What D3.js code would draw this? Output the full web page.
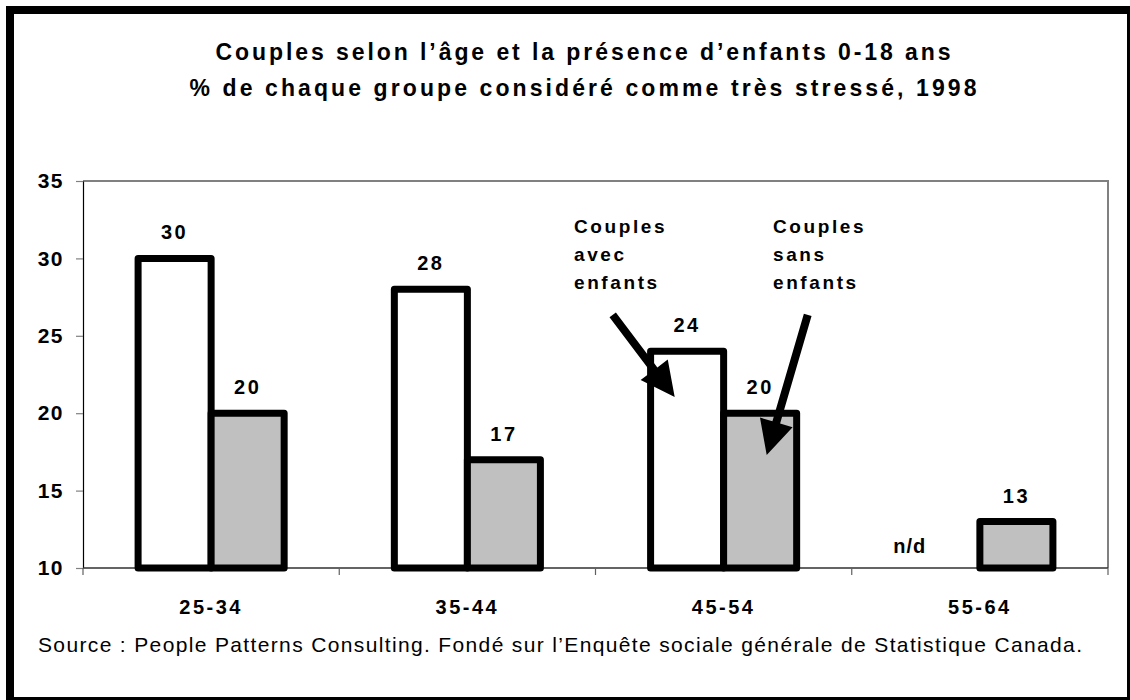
<!DOCTYPE html>
<html lang="fr">
<head>
<meta charset="utf-8">
<script src="https://cdn.jsdelivr.net/npm/d3@7"></script>
<style>
  html, body { margin: 0; padding: 0; background: #fff; }
  svg { display: block; font-family: "Liberation Sans", Arial, Helvetica, sans-serif; }
</style>
</head>
<body>
<svg id="chart" width="1130" height="700"></svg>
<script>
// Age groups and the share (%) of couples in each group who report being very stressed
const categories = ["25-34", "35-44", "45-54", "55-64"];
const seriesKeys = ["avec", "sans"];
const avecEnfants = [30, 28, 24, null];   // no data (n/d) for 55-64
const sansEnfants = [20, 17, 20, 13];
const yTicks = [10, 15, 20, 25, 30, 35];

const titleLines = [
  "Couples selon l\u2019âge et la présence d\u2019enfants 0-18 ans",
  "% de chaque groupe considéré comme très stressé, 1998"
];
const sourceText = "Source : People Patterns Consulting. Fondé sur l\u2019Enquête sociale générale de Statistique Canada.";
const missingLabel = "n/d";
const seriesLabels = {
  avec: ["Couples", "avec", "enfants"],
  sans: ["Couples", "sans", "enfants"]
};

const svg = d3.select("#chart");
const W = 1130, H = 700;

svg.append("rect").attr("width", W).attr("height", H).attr("fill", "#fff");

// Plot area
const plot = { left: 83, right: 1108, top: 181, bottom: 568 };

const x0 = d3.scaleBand()
  .domain(categories)
  .range([plot.left, plot.right])
  .paddingInner(0.43)
  .paddingOuter(0.215);

const x1 = d3.scaleBand()
  .domain(seriesKeys)
  .range([0, x0.bandwidth()])
  .padding(0);

const y = d3.scaleLinear().domain([10, 35]).range([plot.bottom, plot.top]);

const fills = { avec: "#ffffff", sans: "#c0c0c0" };

// Plot frame (top and right edges)
svg.append("path")
  .attr("d", `M${plot.left},${plot.top}H${plot.right}V${plot.bottom}`)
  .attr("fill", "none")
  .attr("stroke", "#808080")
  .attr("stroke-width", 2);

// Y axis
const yAxis = svg.append("g")
  .attr("transform", `translate(${plot.left},0)`)
  .call(d3.axisLeft(y).tickValues(yTicks).tickSize(7).tickPadding(12).tickSizeOuter(0));
yAxis.select(".domain").attr("stroke", "#000").attr("stroke-width", 1.2);
yAxis.selectAll(".tick line").attr("stroke", "#808080").attr("stroke-width", 1.2);
yAxis.selectAll(".tick text")
  .attr("fill", "#000")
  .attr("font-size", 21)
  .attr("font-weight", "bold")
  .attr("letter-spacing", 1.5)
  .attr("font-family", "'Liberation Sans', Arial, sans-serif");

// X axis: baseline, ticks at category boundaries, centred labels
const xAxis = svg.append("g");
xAxis.append("line")
  .attr("x1", plot.left).attr("x2", plot.right)
  .attr("y1", plot.bottom).attr("y2", plot.bottom)
  .attr("stroke", "#303030").attr("stroke-width", 1.5);
const step = x0.step();
const boundaries = categories.map(c => x0(c) - x0.paddingOuter() * step).concat([plot.right]);
xAxis.selectAll("line.tick")
  .data(boundaries)
  .join("line")
  .attr("class", "tick")
  .attr("x1", d => d).attr("x2", d => d)
  .attr("y1", plot.bottom).attr("y2", plot.bottom + 7)
  .attr("stroke", "#606060").attr("stroke-width", 1.2);
xAxis.selectAll("text")
  .data(categories)
  .join("text")
  .attr("x", d => x0(d) + x0.bandwidth() / 2)
  .attr("y", 614)
  .attr("text-anchor", "middle")
  .attr("font-size", 20)
  .attr("font-weight", "bold")
  .attr("letter-spacing", 2.5)
  .text(d => d);

// Bars
const rows = categories.map((c, i) => ({
  category: c,
  values: [
    { key: "avec", value: avecEnfants[i] },
    { key: "sans", value: sansEnfants[i] }
  ]
}));

const groups = svg.append("g").selectAll("g")
  .data(rows)
  .join("g")
  .attr("transform", d => `translate(${x0(d.category)},0)`);

groups.selectAll("rect")
  .data(d => d.values.filter(v => v.value != null))
  .join("rect")
  .attr("x", d => x1(d.key))
  .attr("y", d => y(d.value))
  .attr("width", x1.bandwidth())
  .attr("height", d => y(10) - y(d.value))
  .attr("fill", d => fills[d.key])
  .attr("stroke", "#000")
  .attr("stroke-width", 7)
  .attr("stroke-linejoin", "round");

// Value labels above the bars
groups.selectAll("text.value")
  .data(d => d.values.filter(v => v.value != null))
  .join("text")
  .attr("class", "value")
  .attr("x", d => x1(d.key) + x1.bandwidth() / 2)
  .attr("y", d => y(d.value) - 19)
  .attr("text-anchor", "middle")
  .attr("font-size", 20)
  .attr("font-weight", "bold")
  .attr("letter-spacing", 2.5)
  .text(d => d.value);

// Missing value marker
groups.selectAll("text.missing")
  .data(d => d.values.filter(v => v.value == null))
  .join("text")
  .attr("class", "missing")
  .attr("x", d => x1(d.key) + 3)
  .attr("y", y(10) - 15)
  .attr("text-anchor", "middle")
  .attr("font-size", 20)
  .attr("font-weight", "bold")
  .attr("letter-spacing", 1)
  .text(missingLabel);

// Series annotations with arrows pointing into the 45-54 bars
function arrowPath(sx, sy, tx, ty, shaft, headLen, headHalf) {
  const dx = tx - sx, dy = ty - sy;
  const len = Math.hypot(dx, dy);
  const ux = dx / len, uy = dy / len;
  const px = -uy, py = ux;
  const bx = tx - ux * headLen, by = ty - uy * headLen;
  const s = shaft / 2;
  const pts = [
    [sx + px * s, sy + py * s],
    [bx + px * s, by + py * s],
    [bx + px * headHalf, by + py * headHalf],
    [tx, ty],
    [bx - px * headHalf, by - py * headHalf],
    [bx - px * s, by - py * s],
    [sx - px * s, sy - py * s]
  ];
  return "M" + pts.map(p => p.join(",")).join("L") + "Z";
}

const notes = [
  { key: "avec", textX: 574, tipFrac: 0.33, tipValue: 21.05, dx: -62, dy: -82 },
  { key: "sans", textX: 773, tipFrac: 0.59, tipValue: 17.3, dx: 41, dy: -140 }
];
const noteGroup = svg.append("g");
notes.forEach(n => {
  const tx = x0("45-54") + x1(n.key) + x1.bandwidth() * n.tipFrac;
  const ty = y(n.tipValue);
  noteGroup.append("path")
    .attr("d", arrowPath(tx + n.dx, ty + n.dy, tx, ty, 8, 34, 17))
    .attr("fill", "#000");
  const t = noteGroup.append("text")
    .attr("font-size", 19)
    .attr("font-weight", "bold")
    .attr("letter-spacing", 2.6);
  seriesLabels[n.key].forEach((line, i) => {
    t.append("tspan").attr("x", n.textX).attr("y", 233 + i * 28).text(line);
  });
});

// Title
svg.append("g").selectAll("text")
  .data(titleLines)
  .join("text")
  .attr("x", 583)
  .attr("y", (d, i) => 60 + i * 36)
  .attr("text-anchor", "middle")
  .attr("font-size", 23)
  .attr("font-weight", "bold")
  .attr("textLength", (d, i) => i === 0 ? 735 : 787)
  .attr("lengthAdjust", "spacing")
  .text(d => d);

// Source note
svg.append("text")
  .attr("x", 38)
  .attr("y", 652)
  .attr("font-size", 21)
  .attr("textLength", 1044)
  .attr("lengthAdjust", "spacing")
  .text(sourceText);

// Outer frame
svg.append("rect")
  .attr("x", 10).attr("y", 10)
  .attr("width", 1121).attr("height", 691)
  .attr("fill", "none")
  .attr("stroke", "#000")
  .attr("stroke-width", 8);
</script>
</body>
</html>
